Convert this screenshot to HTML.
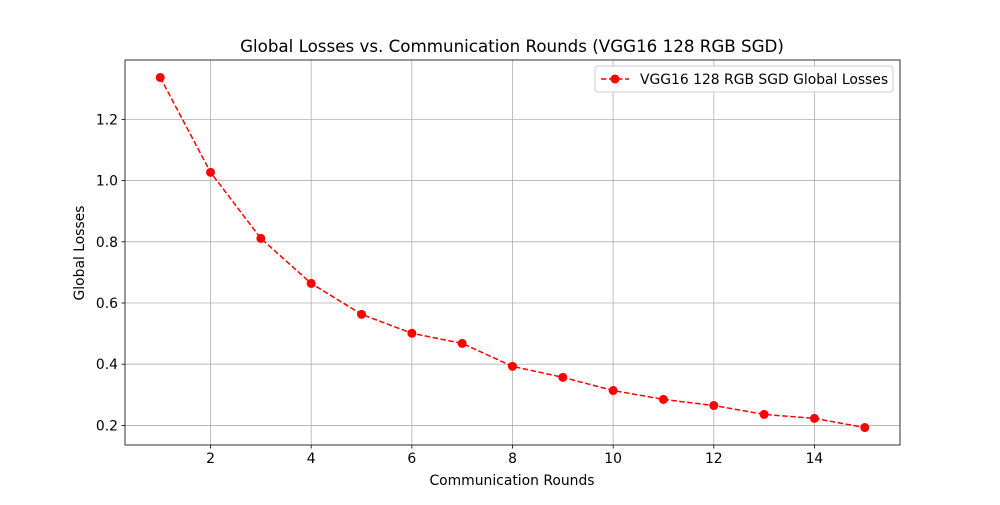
<!DOCTYPE html>
<html><head><meta charset="utf-8"><style>
body{margin:0;background:#fff;}
svg text{font-family:"DejaVu Sans","Liberation Sans",sans-serif;}
</style></head><body>
<svg id="chart" width="1000" height="500" xmlns="http://www.w3.org/2000/svg">
<rect width="1000" height="500" fill="#fff"/>
<g id="grid"></g><g id="axes"></g><g id="series"></g>
<text x="512" y="52" text-anchor="middle" font-size="16.7">Global Losses vs. Communication Rounds (VGG16 128 RGB SGD)</text>
<text x="512" y="485" text-anchor="middle" font-size="13.9">Communication Rounds</text>
<text x="84" y="253" text-anchor="middle" font-size="13.9" transform="rotate(-90 84 253)">Global Losses</text>
<g>
<rect x="595" y="66" width="298" height="26" rx="3" fill="#fff" stroke="#ccc"/>
<line x1="601" y1="79" x2="629" y2="79" stroke="red" stroke-width="1.5" stroke-dasharray="5.5,2.5"/>
<circle cx="615" cy="79" r="4.5" fill="red"/>
<text x="640" y="84" font-size="13.9">VGG16 128 RGB SGD Global Losses</text>
</g>
</svg>
<script>
const rounds=[1,2,3,4,5,6,7,8,9,10,11,12,13,14,15];
const losses=[1.337,1.027,0.811,0.664,0.563,0.501,0.468,0.393,0.357,0.314,0.285,0.265,0.236,0.223,0.193];
const xTicks=[2,4,6,8,10,12,14];
const yTicks=[0.2,0.4,0.6,0.8,1.0,1.2];
const L=125,R=900,T=60,B=445,x0=0.3,x1=15.7,y0=0.136,y1=1.394;
const sx=v=>L+(v-x0)/(x1-x0)*(R-L);
const sy=v=>B-(v-y0)/(y1-y0)*(B-T);
const NS="http://www.w3.org/2000/svg";
function mk(p,t,a){const e=document.createElementNS(NS,t);for(const k in a)e.setAttribute(k,a[k]);p.appendChild(e);return e;}
const g=document.getElementById('grid'),ax=document.getElementById('axes'),s=document.getElementById('series');
xTicks.forEach(v=>{const x=sx(v);
const l=mk(g,'line',{x1:x,x2:x,y1:T,y2:B,stroke:'#b0b0b0','stroke-width':0.8});


mk(ax,'line',{x1:x,x2:x,y1:B,y2:B+3.5,stroke:'#000','stroke-width':0.8});
const t=mk(ax,'text',{x:x,y:B+18,'text-anchor':'middle','font-size':13.9});t.textContent=v;

});
yTicks.forEach(v=>{const y=sy(v);
const l=mk(g,'line',{x1:L,x2:R,y1:y,y2:y,stroke:'#b0b0b0','stroke-width':0.8});


mk(ax,'line',{x1:L-3.5,x2:L,y1:y,y2:y,stroke:'#000','stroke-width':0.8});
const t=mk(ax,'text',{x:L-7,y:y+5,'text-anchor':'end','font-size':13.9});t.textContent=v.toFixed(1);

});
const f=mk(ax,'rect',{x:L,y:T,width:R-L,height:B-T,fill:'none',stroke:'#000','stroke-width':0.8});


const line=mk(s,'polyline',{points:rounds.map((r,i)=>sx(r)+','+sy(losses[i])).join(' '),fill:'none',stroke:'red','stroke-width':1.5,'stroke-dasharray':'5.5,2.5'});


rounds.forEach((r,i)=>{const c=mk(s,'circle',{cx:sx(r),cy:sy(losses[i]),r:4.5,fill:'red'});

});
</script>
</body></html>
